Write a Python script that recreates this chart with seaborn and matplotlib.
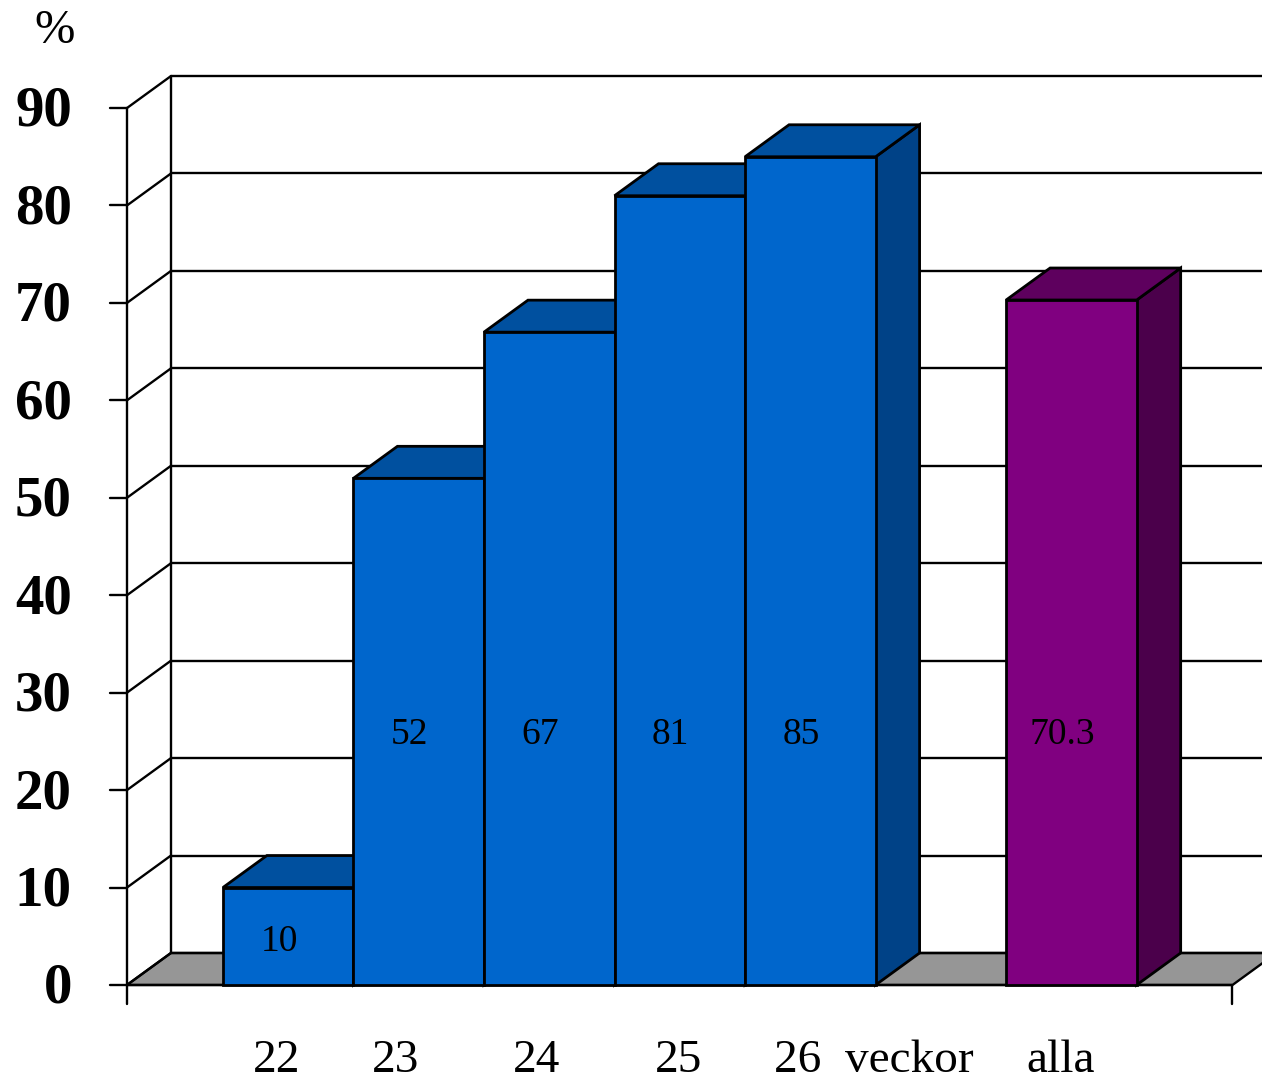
import matplotlib
matplotlib.use("Agg")
import matplotlib.pyplot as plt
from matplotlib.patches import Polygon
import seaborn as sns
import pandas as pd

# Chart data
categories = ["22", "23", "24", "25", "26  veckor", "alla"]
positions = [0, 1, 2, 3, 4, 6]
values = [10, 52, 67, 81, 85, 70.3]
value_labels = ["10", "52", "67", "81", "85", "70.3"]
y_ticks = [0, 10, 20, 30, 40, 50, 60, 70, 80, 90]
y_unit = "%"

# Face colours for the pseudo-3D boxes
front_colors = ["#0066CC"] * 5 + ["#800080"]
top_colors = ["#00509F"] * 5 + ["#5E005E"]
side_colors = ["#004287"] * 5 + ["#4B004B"]
floor_color = "#969696"

sns.set_style("white")
plt.rcParams["font.family"] = ["Liberation Serif", "DejaVu Serif"]

fig = plt.figure(figsize=(12.62, 10.83), dpi=100)
ax = fig.add_axes([0, 0, 1, 1])

df = pd.DataFrame({"pos": positions, "value": values, "cat": categories})
sns.barplot(data=df, x="pos", y="value", hue="cat", palette=front_colors,
            saturation=1, native_scale=True, width=1.0, dodge=False,
            errorbar=None, edgecolor="black", linewidth=2.0, legend=False,
            ax=ax)
bars = sorted(list(ax.patches), key=lambda p: p.get_x())
for ln in list(ax.lines):
    ln.remove()

# Projection of the depth axis
DX, DY = 0.337, 3.284
x_front = -1.235          # front vertical axis
x_back = x_front + DX     # back wall left edge
x_end = 7.234             # end of front floor edge
x_right = 7.46
LW = 1.7

ax.set_xlim(-2.2075, x_right)
ax.set_ylim(-10.06, 101.09)
ax.axis("off")

# Floor
floor = Polygon([(x_front, 0), (x_back, DY), (x_end + DX, DY), (x_end, 0)],
                closed=True, facecolor=floor_color, edgecolor="black",
                linewidth=LW, zorder=1)
ax.add_patch(floor)

# Back wall and side wall grid
for t in y_ticks:
    ax.plot([x_back, x_right + 1], [t + DY, t + DY], color="black", lw=LW, zorder=1.2)
    ax.plot([x_front, x_back], [t, t + DY], color="black", lw=LW, zorder=1.2)
    ax.plot([x_front - 0.13, x_front], [t, t], color="black", lw=LW, zorder=1.2)
    ax.text(-1.656, t - 0.4, str(t), ha="right", va="center",
            fontsize=41, fontweight="bold", color="black")
ax.plot([x_back, x_back], [DY, y_ticks[-1] + DY], color="black", lw=LW, zorder=1.2)
ax.plot([x_front, x_front], [-2.0, y_ticks[-1]], color="black", lw=LW, zorder=1.2)
ax.plot([x_front, x_end], [0, 0], color="black", lw=LW, zorder=1.2)
ax.plot([x_end, x_end], [-2.0, 0], color="black", lw=LW, zorder=1.2)

ax.text(-1.786, 97.9, y_unit, ha="center", va="center", fontsize=35, color="black")

# Boxes: side and top faces behind each front face
for i, (bar, top_c, side_c) in enumerate(zip(bars, top_colors, side_colors)):
    x0 = bar.get_x()
    x1 = x0 + bar.get_width()
    h = bar.get_height()
    bar.set_zorder(4 + 2 * i)
    side = Polygon([(x1, 0), (x1 + DX, DY), (x1 + DX, h + DY), (x1, h)],
                   closed=True, facecolor=side_c, edgecolor="black",
                   linewidth=2.0, zorder=3 + 2 * i)
    top = Polygon([(x0, h), (x0 + DX, h + DY), (x1 + DX, h + DY), (x1, h)],
                  closed=True, facecolor=top_c, edgecolor="black",
                  linewidth=2.0, zorder=3 + 2 * i)
    ax.add_patch(side)
    ax.add_patch(top)

# Value labels inside the bars
for pos, v, lab in zip(positions, values, value_labels):
    y_lab = 25.7 if v > 30 else v * 0.44
    ax.text(pos - 0.07, y_lab, lab, ha="center", va="center",
            fontsize=27, color="black", zorder=20)

# Category labels under the floor
label_shift = [-0.09, -0.18, -0.1, -0.01, -0.28, -0.08]
for pos, cat, s in zip(positions, categories, label_shift):
    ha = "left" if " " in cat else "center"
    ax.text(pos + s, -8.93, cat, ha=ha, va="baseline", fontsize=34, color="black")

fig.savefig("out.png", dpi=100)
